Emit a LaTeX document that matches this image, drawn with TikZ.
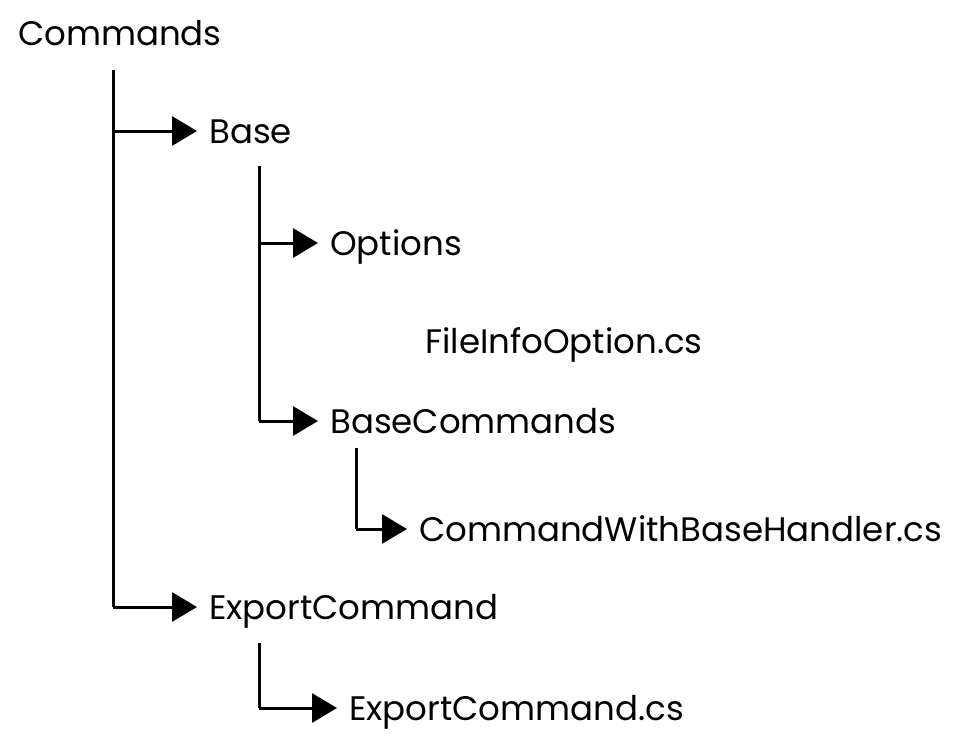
\documentclass[tikz,border=0pt]{standalone}
\usepackage{fontspec}
\setmainfont{Poppins}
\usetikzlibrary{arrows.meta}

\tikzset{
  folder/.style={anchor=west, inner sep=0pt, text height=24pt, text depth=0pt, font=\fontsize{34}{40}\selectfont},
  branch/.style={line width=3pt, -{Triangle[length=25pt,width=29pt]}, shorten >=12pt},
  trunk/.style={line width=3pt}
}

\begin{document}
\begin{tikzpicture}[x=1pt,y=-1pt]
	\useasboundingbox (0,0) rectangle (958,747);

	\node[folder] (commands) at (18,33) {Commands};
	\node[folder] (base) at (209,131) {Base};
	\node[folder] (options) at (330,243) {Options};
	\node[folder] (fileinfo) at (425,341) {FileInfoOption.cs};
	\node[folder] (basecmds) at (330,421) {BaseCommands};
	\node[folder] (withbase) at (419,529) {CommandWithBaseHandler.cs};
	\node[folder] (export) at (209,607) {ExportCommand};
	\node[folder] (exportcs) at (349,708) {ExportCommand.cs};

	\coordinate (t1) at (113,70);
	\coordinate (t2) at (259,166);
	\coordinate (t3) at (356,448);
	\coordinate (t4) at (259,643);

	% Commands
	\draw[trunk] (t1) -- (t1 |- export.west);
	\draw[branch] (t1 |- base.west) -- (base.west);
	\draw[branch] (t1 |- export.west) -- (export.west);

	% Base
	\draw[trunk] (t2) -- (t2 |- basecmds.west);
	\draw[branch] (t2 |- options.west) -- (options.west);
	\draw[branch] (t2 |- basecmds.west) -- (basecmds.west);

	% BaseCommands
	\draw[trunk] (t3) -- (t3 |- withbase.west);
	\draw[branch] (t3 |- withbase.west) -- (withbase.west);

	% ExportCommand
	\draw[trunk] (t4) -- (t4 |- exportcs.west);
	\draw[branch] (t4 |- exportcs.west) -- (exportcs.west);
\end{tikzpicture}
\end{document}
